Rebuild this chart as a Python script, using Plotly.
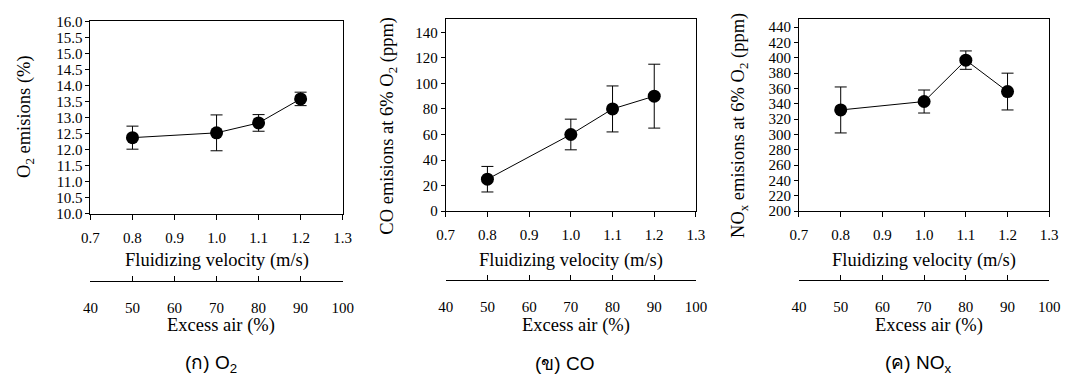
import plotly.graph_objects as go

W, H = 1073, 383

# ---------------- data ----------------
velocity = [0.8, 1.0, 1.1, 1.2]          # m/s
excess_air = [50, 70, 80, 90]            # %

o2_mean = [12.37, 12.52, 12.83, 13.58]
o2_err = [0.36, 0.56, 0.26, 0.21]

co_mean = [25, 60, 80, 90]
co_err = [10, 12, 18, 25]

nox_mean = [332, 343, 397, 356]
nox_err = [30, 15, 12, 24]

vel_ticks = [0.7, 0.8, 0.9, 1.0, 1.1, 1.2, 1.3]
ea_ticks = [40, 50, 60, 70, 80, 90, 100]

panels = [
    dict(mean=o2_mean, err=o2_err, yrange=[10, 16], dtick=0.5, fmt=".1f",
         ytitle="O<sub>2</sub> emisions (%)", caption="(ก) O<sub>2</sub>",
         box=(83, 340, 14, 214.5), ea_line=285, ytitle_x=17, ytitle_y=113),
    dict(mean=co_mean, err=co_err, yrange=[0, 150], dtick=20, fmt="d",
         ytitle="CO emisions at 6% O<sub>2</sub> (ppm)", caption="(ข) CO",
         box=(445, 700, 12, 212), ea_line=284, ytitle_x=387, ytitle_y=123),
    dict(mean=nox_mean, err=nox_err, yrange=[200, 450], dtick=20, fmt="d",
         ytitle="NO<sub>x</sub> emisions at 6% O<sub>2</sub> (ppm)", caption="(ค) NO<sub>x</sub>",
         box=(805, 1060, 12, 212), ea_line=284, ytitle_x=745, ytitle_y=123),
]

SERIF = "Liberation Serif"
SANS = "Liberation Sans"

fig = go.Figure()
layout = dict(
    width=W, height=H, margin=dict(l=0, r=0, t=0, b=0),
    paper_bgcolor="white", plot_bgcolor="white", showlegend=False,
    font=dict(family=SERIF, size=15, color="black"),
)
annotations = []

for i, p in enumerate(panels):
    n = i + 1
    xa = "x" if n == 1 else f"x{n}"
    ya = "y" if n == 1 else f"y{n}"
    ea_n = n + 3
    ea_name = f"x{ea_n}"
    x0, x1, y0, y1 = p["box"]
    xdom = [x0 / W, x1 / W]
    ydom = [1 - y1 / H, 1 - y0 / H]

    fig.add_trace(go.Scatter(
        x=velocity, y=p["mean"], xaxis=xa, yaxis=ya,
        mode="lines+markers",
        line=dict(color="black", width=1),
        marker=dict(color="black", size=13),
        error_y=dict(type="data", array=p["err"], visible=True,
                     color="black", thickness=1, width=6),
        hoverinfo="x+y",
    ))
    # invisible trace to bind excess-air axis
    fig.add_trace(go.Scatter(
        x=excess_air, y=p["mean"], xaxis=ea_name, yaxis=ya,
        mode="markers", marker=dict(opacity=0), hoverinfo="skip",
    ))

    tf = dict(family=SERIF, size=15, color="black")
    layout["xaxis" if n == 1 else f"xaxis{n}"] = dict(
        domain=xdom, anchor=ya, range=[0.7, 1.3], tickvals=vel_ticks,
        tickformat=".1f", showline=True, linecolor="black", linewidth=1,
        mirror=True, ticks="outside", ticklen=5, tickcolor="black",
        showgrid=False, zeroline=False, ticklabelstandoff=5,
        tickfont=tf,
    )
    layout["yaxis" if n == 1 else f"yaxis{n}"] = dict(
        domain=ydom, anchor=xa, range=p["yrange"], dtick=p["dtick"],
        tick0=p["yrange"][0], tickformat=p["fmt"],
        showline=True, linecolor="black", linewidth=1, mirror=True,
        ticks="outside", ticklen=4, tickcolor="black",
        showgrid=False, zeroline=False,
        tickfont=tf,
    )
    layout[f"xaxis{ea_n}"] = dict(
        overlaying=xa, anchor="free", position=1 - p["ea_line"] / H,
        side="bottom", range=[40, 100], tickvals=ea_ticks,
        showline=True, linecolor="black", linewidth=1,
        ticks="inside", ticklen=5, tickcolor="black",
        showgrid=False, zeroline=False, ticklabelstandoff=13,
        tickfont=tf,
    )

    cx = (x0 + x1) / 2 / W
    annotations.append(dict(
        text="Fluidizing velocity (m/s)", x=cx, y=1 - 263 / H,
        xref="paper", yref="paper", xanchor="center", yanchor="middle",
        showarrow=False, font=dict(family=SERIF, size=18.5, color="black")))
    annotations.append(dict(
        text="Excess air (%)", x=(cx * W + 5) / W, y=1 - 331 / H,
        xref="paper", yref="paper", xanchor="center", yanchor="middle",
        showarrow=False, font=dict(family=SERIF, size=18.5, color="black")))
    annotations.append(dict(
        text=p["ytitle"], x=p["ytitle_x"] / W, y=1 - p["ytitle_y"] / H,
        xref="paper", yref="paper", xanchor="center", yanchor="middle",
        textangle=-90, showarrow=False,
        font=dict(family=SERIF, size=18.5, color="black")))
    annotations.append(dict(
        text=p["caption"], x=(cx * W - 6) / W, y=1 - 371 / H,
        xref="paper", yref="paper", xanchor="center", yanchor="middle",
        showarrow=False, font=dict(family=SANS, size=19, color="black")))

layout["annotations"] = annotations
fig.update_layout(**layout)
fig.write_html("out.html")
